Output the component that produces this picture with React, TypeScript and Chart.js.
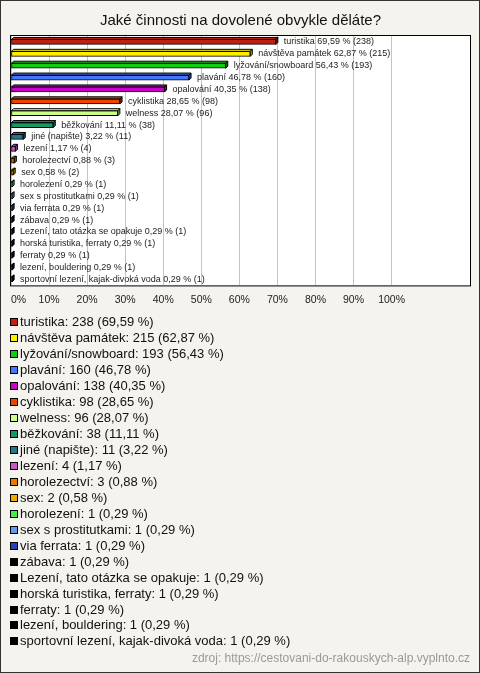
import React, { useEffect, useRef } from 'react';
import { Chart, registerables } from 'chart.js';

Chart.register(...registerables);

const TITLE = 'Jaké činnosti na dovolené obvykle děláte?';
const SOURCE = 'zdroj: https://cestovani-do-rakouskych-alp.vyplnto.cz';

const categories = [
  'turistika',
  'návštěva památek',
  'lyžování/snowboard',
  'plavání',
  'opalování',
  'cyklistika',
  'welness',
  'běžkování',
  'jiné (napište)',
  'lezení',
  'horolezectví',
  'sex',
  'horolezení',
  'sex s prostitutkami',
  'via ferrata',
  'zábava',
  'Lezení, tato otázka se opakuje',
  'horská turistika, ferraty',
  'ferraty',
  'lezení, bouldering',
  'sportovní lezení, kajak-divoká voda',
];

const counts = [238, 215, 193, 160, 138, 98, 96, 38, 11, 4, 3, 2, 1, 1, 1, 1, 1, 1, 1, 1, 1];

const percents = [
  69.59, 62.87, 56.43, 46.78, 40.35, 28.65, 28.07, 11.11, 3.22, 1.17, 0.88, 0.58,
  0.29, 0.29, 0.29, 0.29, 0.29, 0.29, 0.29, 0.29, 0.29,
];

const colors = [
  '#c0200f', '#ffee00', '#11cc11', '#4477ff', '#cc00cc', '#ee4400', '#ccff88',
  '#119966', '#227788', '#cc55cc', '#ee7700', '#eeaa00', '#44ee44', '#6699ee',
  '#2244bb', '#000000', '#000000', '#000000', '#000000', '#000000', '#000000',
];

const xTicks = [0, 10, 20, 30, 40, 50, 60, 70, 80, 90, 100];
const X_MAX = 120.6;

const FONT = '"Liberation Sans", Arial, sans-serif';

const fmt = (v: number) => v.toFixed(2).replace('.', ',');

function shade(hex: string, f: number) {
  const n = parseInt(hex.slice(1), 16);
  const r = Math.round(((n >> 16) & 255) * f);
  const g = Math.round(((n >> 8) & 255) * f);
  const b = Math.round((n & 255) * f);
  return `rgb(${r},${g},${b})`;
}

const frame = {
  id: 'frame',
  beforeDraw(chart: any) {
    const { ctx, chartArea: a } = chart;
    ctx.save();
    ctx.fillStyle = '#ffffff';
    ctx.fillRect(a.left, a.top, a.right - a.left, a.bottom - a.top);
    ctx.restore();
  },
  afterDraw(chart: any) {
    const { ctx, chartArea: a } = chart;
    ctx.save();
    ctx.strokeStyle = '#000000';
    ctx.lineWidth = 1;
    ctx.strokeRect(a.left - 0.5, a.top - 0.5, a.right - a.left + 1, a.bottom - a.top + 1);
    ctx.restore();
  },
};

const bar3d = {
  id: 'bar3d',
  afterDatasetsDraw(chart: any) {
    const ctx = chart.ctx;
    const meta = chart.getDatasetMeta(0);
    const d = 2;
    meta.data.forEach((el: any, i: number) => {
      const { x, y, base, height } = el.getProps(['x', 'y', 'base', 'height'], true);
      const top = y - height / 2;
      const bottom = y + height / 2;
      ctx.save();
      ctx.strokeStyle = '#000000';
      ctx.lineWidth = 1;
      ctx.fillStyle = colors[i];
      ctx.beginPath();
      ctx.moveTo(base, top);
      ctx.lineTo(base + d, top - d);
      ctx.lineTo(x + d, top - d);
      ctx.lineTo(x, top);
      ctx.closePath();
      ctx.fill();
      ctx.stroke();
      ctx.fillStyle = shade(colors[i], 0.7);
      ctx.beginPath();
      ctx.moveTo(x, top);
      ctx.lineTo(x + d, top - d);
      ctx.lineTo(x + d, bottom - d);
      ctx.lineTo(x, bottom);
      ctx.closePath();
      ctx.fill();
      ctx.stroke();
      ctx.fillStyle = '#222222';
      ctx.font = `9px ${FONT}`;
      ctx.textBaseline = 'middle';
      ctx.textAlign = 'left';
      ctx.fillText(`${categories[i]} ${fmt(percents[i])} % (${counts[i]})`, x + d + 6, y);
      ctx.restore();
    });
  },
};

const legendPlugin = {
  id: 'listLegend',
  afterDraw(chart: any) {
    const ctx = chart.ctx;
    const a = chart.chartArea;
    const startY = a.bottom + 37;
    const step = 15.95;
    ctx.save();
    ctx.font = `13px ${FONT}`;
    ctx.textBaseline = 'middle';
    ctx.textAlign = 'left';
    categories.forEach((c, i) => {
      const y = Math.round(startY + i * step);
      ctx.fillStyle = colors[i];
      ctx.fillRect(9, y - 4, 8, 8);
      ctx.strokeStyle = '#000000';
      ctx.lineWidth = 1;
      ctx.strokeRect(9.5, y - 3.5, 7, 7);
      ctx.fillStyle = '#111111';
      ctx.fillText(`${c}: ${counts[i]} (${fmt(percents[i])} %)`, 19, y + 0.5);
    });
    ctx.font = `12px ${FONT}`;
    ctx.fillStyle = '#999999';
    ctx.textAlign = 'right';
    ctx.fillText(SOURCE, chart.width - 9, chart.height - 13);
    ctx.restore();
  },
};

export default function App() {
  const ref = useRef<HTMLCanvasElement | null>(null);

  useEffect(() => {
    if (!ref.current) return;
    const chart = new Chart(ref.current, {
      type: 'bar',
      data: {
        labels: categories,
        datasets: [
          {
            data: percents,
            backgroundColor: colors,
            borderColor: '#000000',
            borderWidth: 1,
            borderSkipped: false,
            barThickness: 5,
          },
        ],
      },
      options: {
        indexAxis: 'y',
        animation: false,
        responsive: false,
        events: [],
        font: { family: FONT },
        layout: { padding: { left: 10, right: 9, top: 0, bottom: 358 } },
        plugins: {
          legend: { display: false },
          tooltip: { enabled: false },
          title: {
            display: true,
            text: TITLE,
            color: '#111111',
            font: { family: FONT, size: 15, weight: 'normal' },
            padding: { top: 11, bottom: 6 },
          },
        },
        scales: {
          x: {
            type: 'linear',
            min: 0,
            max: X_MAX,
            afterBuildTicks: (s: any) => {
              s.ticks = [...xTicks, X_MAX].map((v) => ({ value: v }));
            },
            grid: {
              color: (c: any) => (c.tick && c.tick.value > 100 ? 'rgba(0,0,0,0)' : '#c4c4c4'),
              drawTicks: false,
              lineWidth: 1,
            },
            border: { display: false },
            ticks: {
              callback: (v: any) => (v > 100 ? '' : `${v}%`),
              align: 'inner',
              padding: 8,
              color: '#222222',
              font: { family: FONT, size: 10.5 },
              maxRotation: 0,
              autoSkip: false,
            },
          },
          y: {
            type: 'category',
            display: false,
          },
        },
      } as any,
      plugins: [frame, bar3d, legendPlugin],
    });
    return () => chart.destroy();
  }, []);

  return (
    <div
      style={{
        position: 'absolute',
        left: 0,
        top: 0,
        width: 480,
        height: 673,
        boxSizing: 'border-box',
        border: '1px solid #333333',
        background: '#f4f3ee',
      }}
    >
      <canvas ref={ref} width={478} height={671} style={{ display: 'block', width: 478, height: 671 }} />
    </div>
  );
}
